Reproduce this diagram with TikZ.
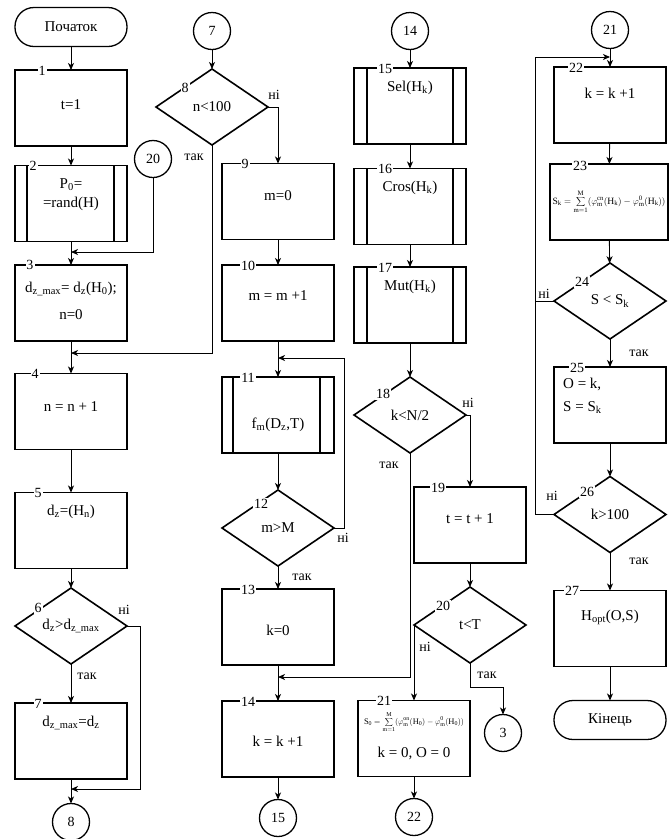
\documentclass[tikz,border=0pt]{standalone}
\usepackage{fontspec}
\usepackage{graphicx}
\setmainfont{Liberation Serif}
\usetikzlibrary{shapes.geometric,arrows.meta,calc}
\begin{document}
\begin{tikzpicture}[x=1pt,y=-1pt,
  txt/.style={font=\fontsize{15}{19}\selectfont,inner sep=0pt,align=center},
  box/.style={draw,line width=1.6pt,minimum width=112pt,minimum height=76pt,inner sep=0pt,outer sep=0pt},
  dec/.style={draw,diamond,line width=1.6pt,minimum width=112pt,minimum height=76pt,inner sep=0pt,outer sep=0pt,font=\fontsize{15}{19}\selectfont},
  conn/.style={draw,circle,line width=1.3pt,minimum size=37pt,inner sep=0pt,outer sep=0pt,font=\fontsize{14}{16}\selectfont},
  term/.style={draw,rectangle,rounded corners=19pt,line width=1.3pt,minimum width=112pt,minimum height=39pt,inner sep=0pt,outer sep=0pt,font=\fontsize{15}{19}\selectfont},
  num/.style={fill=white,inner sep=1pt,font=\fontsize{14}{14}\selectfont},
  lab/.style={inner sep=0pt,font=\fontsize{14}{14}\selectfont},
  arr/.style={line width=0.9pt,-{Stealth[length=7pt,width=6pt,inset=2pt]}},
  ln/.style={line width=0.9pt},
  innerln/.style={line width=1.6pt}
]
\useasboundingbox (0,0) rectangle (669,839);

% ---------------- column 1
\node[term] (start) at (71,27) {Початок};
\node[box] (b1) at (71,108) {};
\node[txt] (b1t) at (71,105) {t=1};
\node[box] (b2) at (71,203.5) {};
\draw[innerln] ([xshift=12pt]b2.north west) -- ([xshift=12pt]b2.south west);
\draw[innerln] ([xshift=-13pt]b2.north east) -- ([xshift=-13pt]b2.south east);
\node[txt] (b2t) at (71,195) {P\textsubscript{0}=\\=rand(H)};
\node[conn] (c20) at (153,159) {20};
\node[box] (b3) at (71,303) {};
\node[txt,font=\fontsize{15}{27}\selectfont] (b3t) at (71,301) {d\textsubscript{z\_max}= d\textsubscript{z}(H\textsubscript{0});\\n=0};
\node[box] (b4) at (71,411.5) {};
\node[txt] (b4t) at (71,407) {n = n + 1};
\node[box] (b5) at (71,530.5) {};
\node[txt] (b5t) at (71,512) {d\textsubscript{z}=(H\textsubscript{n})};
\node[dec] (d6) at (71,626) {d\textsubscript{z}>d\textsubscript{z\_max}};
\node[box] (b7) at (71,741) {};
\node[txt] (b7t) at (71,723) {d\textsubscript{z\_max}=d\textsubscript{z}};
\node[conn] (c8) at (71,822) {8};

\node[num] (n1) at (42,71) {1};
\node[num] (n2) at (33,166) {2};
\node[num] (n3) at (30,265) {3};
\node[num] (n4) at (35,374) {4};
\node[num] (n5) at (38,493) {5};
\node[num] (n6) at (38,608) {6};
\node[num] (n7) at (38,704) {7};

\coordinate (m1) at (71,252);
\coordinate (m2) at (71,353);
\coordinate (m3) at (71,789);

\draw[arr] (start) -- (b1);
\draw[arr] (b1) -- (b2);
\draw[arr] (b2) -- (b3);
\draw[arr] (c20.south) |- (m1);
\draw[arr] (b3) -- (b4);
\draw[arr] (b4) -- (b5);
\draw[arr] (b5) -- (d6);
\draw[arr] (d6) -- (b7);
\draw[arr] (b7) -- (c8);
\draw[arr] (d6.east) -- ++(13,0) |- (m3);
\node[lab] (l6n) at (124,610) {ні};
\node[lab] (l6y) at (87,676) {так};

% ---------------- column 2
\node[conn] (c7) at (212,31) {7};
\node[dec] (d8) at (212,107) {n<100};
\node[box] (b9) at (278,201.5) {};
\node[txt] (b9t) at (278,196) {m=0};
\node[box] (b10) at (278,303) {};
\node[txt] (b10t) at (278,296) {m = m +1};
\node[box] (b11) at (278,415) {};
\draw[innerln] ([xshift=11pt]b11.north west) -- ([xshift=11pt]b11.south west);
\draw[innerln] ([xshift=-14pt]b11.north east) -- ([xshift=-14pt]b11.south east);
\node[txt] (b11t) at (278,425) {f\textsubscript{m}(D\textsubscript{z},T)};
\node[dec] (d12) at (278,528) {m>M};
\node[box] (b13) at (278,627) {};
\node[txt] (b13t) at (278,630) {k=0};
\node[box] (b14) at (278,739) {};
\node[txt] (b14t) at (278,741) {k = k +1};
\node[conn] (c15) at (278,818) {15};

\node[num] (n8) at (185,88) {8};
\node[num] (n9) at (245,164) {9};
\node[num] (n10) at (248,266) {10};
\node[num] (n11) at (248,378) {11};
\node[num] (n12) at (261,504) {12};
\node[num] (n13) at (248,590) {13};
\node[num] (n14) at (248,702) {14};

\coordinate (m4) at (278,358);
\coordinate (m5) at (278,677);

\draw[arr] (c7) -- (d8);
\draw[arr] (d8.east) -| (b9.north);
\draw[arr] (d8.south) |- (m2);
\draw[arr] (b9) -- (b10);
\draw[arr] (b10) -- (b11);
\draw[arr] (d12.east) -- ++(10,0) |- (m4);
\draw[arr] (b11) -- (d12);
\draw[arr] (d12) -- (b13);
\draw[arr] (b13) -- (b14);
\draw[arr] (b14) -- (c15);
\node[lab] (l8n) at (274,95) {ні};
\node[lab] (l8y) at (194,157) {так};
\node[lab] (l12n) at (343,538) {ні};
\node[lab] (l12y) at (302,577) {так};

% ---------------- column 3
\node[conn] (c14) at (410,31) {14};
\node[box] (b15) at (410,106) {};
\draw[innerln] ([xshift=13pt]b15.north west) -- ([xshift=13pt]b15.south west);
\draw[innerln] ([xshift=-13pt]b15.north east) -- ([xshift=-13pt]b15.south east);
\node[txt] (b15t) at (410,88) {Sel(H\textsubscript{k})};
\node[box] (b16) at (410,206.5) {};
\draw[innerln] ([xshift=13pt]b16.north west) -- ([xshift=13pt]b16.south west);
\draw[innerln] ([xshift=-13pt]b16.north east) -- ([xshift=-13pt]b16.south east);
\node[txt] (b16t) at (410,188) {Cros(H\textsubscript{k})};
\node[box] (b17) at (410,305) {};
\draw[innerln] ([xshift=13pt]b17.north west) -- ([xshift=13pt]b17.south west);
\draw[innerln] ([xshift=-13pt]b17.north east) -- ([xshift=-13pt]b17.south east);
\node[txt] (b17t) at (410,287) {Mut(H\textsubscript{k})};
\node[dec] (d18) at (410,415) {k<N/2};
\node[box] (b19) at (470,525) {};
\node[txt] (b19t) at (470,519) {t = t + 1};
\node[dec] (d20) at (470,625) {t<T};
\node[box] (b21) at (414,738.5) {};
\node[txt] (b21f) at (414,722) {\resizebox{100pt}{!}{$\displaystyle \mathrm{S_0=\sum_{m=1}^{M}(\varphi^{on}_m(H_0)-\varphi^{0}_m(H_0))}$}};
\node[txt] (b21t) at (414,753) {k = 0, O = 0};
\node[conn] (c3) at (503,733) {3};
\node[conn] (c22) at (414,817) {22};

\node[num] (n15) at (385,69) {15};
\node[num] (n16) at (385,169) {16};
\node[num] (n17) at (385,268) {17};
\node[num] (n18) at (383,394) {18};
\node[num] (n19) at (438,488) {19};
\node[num] (n20) at (443,606) {20};
\node[num] (n21) at (384,701) {21};

\draw[arr] (c14) -- (b15);
\draw[arr] (b15) -- (b16);
\draw[arr] (b16) -- (b17);
\draw[arr] (b17) -- (d18);
\draw[arr] (d18.east) -| (b19.north);
\draw[arr] (d18.south) |- (m5);
\draw[arr] (b19) -- (d20);
\draw[arr] (d20.west) -- (d20.west |- b21.north);
\draw[arr] (d20.south) -- ++(0,24) -| (c3.north);
\draw[arr] (b21) -- (c22);
\node[lab] (l18n) at (468,403) {ні};
\node[lab] (l18y) at (389,465) {так};
\node[lab] (l20n) at (425,647) {ні};
\node[lab] (l20y) at (487,675) {так};

% ---------------- column 4
\node[conn] (c21) at (610,30) {21};
\node[box] (b22) at (610,105) {};
\node[txt] (b22t) at (610,93) {k = k +1};
\node[box,minimum width=118pt] (b23) at (609,202) {};
\node[txt] (b23f) at (609,202) {\resizebox{113pt}{!}{$\displaystyle \mathrm{S_k=\sum_{m=1}^{M}(\varphi^{cn}_m(H_k)-\varphi^{0}_m(H_k))}$}};
\node[dec] (d24) at (610,301) {S < S\textsubscript{k}};
\node[box] (b25) at (610,405) {};
\node[txt,align=left,anchor=west,font=\fontsize{15}{23}\selectfont] (b25t) at (563,396) {O = k,\\S = S\textsubscript{k}};
\node[dec] (d26) at (610,514.5) {k>100};
\node[box] (b27) at (610,628.5) {};
\node[txt] (b27t) at (610,617) {H\textsubscript{opt}(O,S)};
\node[term] (stop) at (610,720) {Кінець};

\node[num] (n22) at (576,68) {22};
\node[num] (n23) at (580,166) {23};
\node[num] (n24) at (582,282) {24};
\node[num] (n25) at (577,368) {25};
\node[num] (n26) at (587,492) {26};
\node[num] (n27) at (572,591) {27};

\coordinate (m6) at (610,57);

\draw[arr] (c21) -- (b22);
\draw[arr] (d26.west) -- ++(-19,0) |- (m6);
\draw[ln] (d24.west) -- ++(-18,0);
\draw[arr] (b22) -- (b23);
\draw[arr] (b23) -- (d24);
\draw[arr] (d24) -- (b25);
\draw[arr] (b25) -- (d26);
\draw[arr] (d26) -- (b27);
\draw[arr] (b27) -- (stop);
\node[lab] (l24n) at (544,294) {ні};
\node[lab] (l24y) at (639,353) {так};
\node[lab] (l26n) at (552,496) {ні};
\node[lab] (l26y) at (639,561) {так};
\end{tikzpicture}
\end{document}
